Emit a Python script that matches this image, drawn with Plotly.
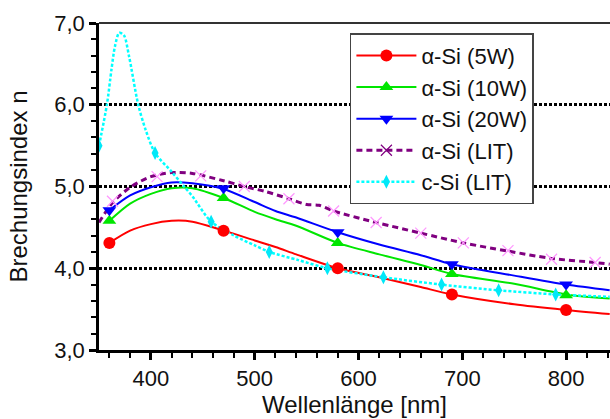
import plotly.graph_objects as go

# --- fitted curves (wavelength in nm, refractive index n) ---
wl_5w = [360, 380, 400, 420, 440, 470, 500, 520, 540, 580, 620, 660, 690, 750, 800, 842]
n_5w = [4.31, 4.46, 4.54, 4.58, 4.57, 4.46, 4.34, 4.26, 4.17, 4.00, 3.89, 3.77, 3.68, 3.56, 3.49, 3.44]

wl_10w = [360, 380, 400, 420, 440, 470, 500, 520, 540, 580, 620, 660, 690, 750, 800, 842]
n_10w = [4.58, 4.79, 4.91, 4.98, 4.98, 4.86, 4.69, 4.60, 4.52, 4.31, 4.17, 4.04, 3.93, 3.81, 3.68, 3.63]

wl_20w = [360, 380, 400, 420, 440, 470, 500, 520, 540, 580, 620, 660, 690, 750, 800, 842]
n_20w = [4.71, 4.89, 4.99, 5.05, 5.04, 4.97, 4.81, 4.70, 4.62, 4.44, 4.29, 4.16, 4.05, 3.91, 3.80, 3.73]

wl_alit = [350, 363, 380, 400, 420, 440, 470, 490, 510, 533, 550, 562, 576, 617, 660, 701, 744, 786, 828, 842]
n_alit = [4.56, 4.80, 4.99, 5.12, 5.17, 5.16, 5.07, 5.00, 4.94, 4.85, 4.78, 4.77, 4.70, 4.56, 4.43, 4.31, 4.21, 4.12, 4.07, 4.05]

wl_clit = [350, 357.6, 362, 365.3, 369.5, 374, 379, 387.8, 395, 404, 420, 432, 440, 458, 480, 500, 514, 542, 570, 624, 680, 735, 790, 842]
n_clit = [5.50, 6.00, 6.43, 6.71, 6.88, 6.85, 6.59, 6.00, 5.69, 5.41, 5.18, 5.00, 4.88, 4.57, 4.40, 4.28, 4.20, 4.10, 4.00, 3.89, 3.80, 3.73, 3.68, 3.65]

# --- measured / literature points shown with symbols ---
mk_wl_5w = [360, 470, 580, 690, 800]
mk_n_5w = [4.31, 4.46, 4.00, 3.68, 3.49]

mk_wl_10w = [360, 470, 580, 690, 800]
mk_n_10w = [4.58, 4.86, 4.31, 3.93, 3.67]

mk_wl_20w = [360, 470, 580, 690, 800]
mk_n_20w = [4.71, 4.98, 4.44, 4.05, 3.80]

mk_wl_alit = [363, 406, 448, 490, 533, 576, 617, 660, 701, 744, 786, 828]
mk_n_alit = [4.82, 5.12, 5.13, 5.00, 4.85, 4.70, 4.56, 4.43, 4.31, 4.215, 4.11, 4.07]

mk_wl_clit = [350, 404, 458, 514, 570, 624, 680, 735, 790]
mk_n_clit = [5.50, 5.41, 4.57, 4.20, 4.00, 3.89, 3.80, 3.73, 3.68]

labels = ["α-Si (5W)", "α-Si (10W)", "α-Si (20W)", "α-Si (LIT)", "c-Si (LIT)"]

X_RANGE = [350, 842.3]
Y_RANGE = [3, 7]

FONT = "Liberation Sans, Arial, sans-serif"
TXT = "#111111"

series = [
    dict(name=labels[0], cx=wl_5w, cy=n_5w, mx=mk_wl_5w, my=mk_n_5w,
         line=dict(color="#FF0000", width=2),
         marker=dict(symbol="circle", size=12, color="#FF0000")),
    dict(name=labels[1], cx=wl_10w, cy=n_10w, mx=mk_wl_10w, my=mk_n_10w,
         line=dict(color="#00E600", width=2),
         marker=dict(symbol="triangle-up", size=12, color="#00E600")),
    dict(name=labels[2], cx=wl_20w, cy=n_20w, mx=mk_wl_20w, my=mk_n_20w,
         line=dict(color="#0000FF", width=2),
         marker=dict(symbol="triangle-down", size=12, color="#0000FF")),
    dict(name=labels[3], cx=wl_alit, cy=n_alit, mx=mk_wl_alit, my=mk_n_alit,
         line=dict(color="#800080", width=3, dash="6px,4px"),
         marker=dict(symbol="x-thin-open", size=11,
                     line=dict(color="#C890C8", width=1.2))),
    dict(name=labels[4], cx=wl_clit, cy=n_clit, mx=mk_wl_clit, my=mk_n_clit,
         line=dict(color="#00FFFF", width=2.5, dash="3px,2px"),
         marker=dict(symbol="diamond-tall", size=10, color="#00E8F8")),
]

fig = go.Figure()

for s in series:
    fig.add_trace(go.Scatter(x=s["cx"], y=s["cy"], mode="lines",
                             line=dict(shape="spline", smoothing=0.8, **s["line"]),
                             showlegend=False, hoverinfo="skip"))
for s in series:
    fig.add_trace(go.Scatter(x=s["mx"], y=s["my"], mode="markers",
                             marker=s["marker"], showlegend=False))
# legend entries: line with symbol
for s in series:
    fig.add_trace(go.Scatter(x=[None], y=[None], mode="lines+markers",
                             name=s["name"], line=s["line"], marker=s["marker"]))

fig.update_layout(
    width=610, height=419,
    margin=dict(l=99, r=0, t=23, b=69),
    paper_bgcolor="white", plot_bgcolor="white",
    separators=", ",
    font=dict(family=FONT, size=22, color=TXT),
    showlegend=True,
    legend=dict(x=0.491, y=0.969, xanchor="left", yanchor="top",
                bgcolor="white", bordercolor="#444444", borderwidth=1.5,
                font=dict(family=FONT, size=22, color=TXT),
                itemwidth=60, tracegroupgap=0),
    shapes=[dict(type="line", xref="paper", yref="paper", x0=0, x1=1, y0=1, y1=1,
                 line=dict(color="#333333", width=2))],
)

fig.update_layout(
    xaxis=dict(
        range=X_RANGE, tick0=0, dtick=100,
        showline=True, linecolor="black", linewidth=2.5,
        ticks="outside", ticklen=7, tickwidth=2.5, tickcolor="black",
        minor=dict(tickmode="linear", tick0=0, dtick=20, ticks="outside",
                   ticklen=5, tickwidth=2, tickcolor="black", showgrid=False),
        showgrid=False, zeroline=False,
        tickfont=dict(family=FONT, size=22, color=TXT),
        title=dict(text="Wellenlänge [nm]", font=dict(family=FONT, size=24, color=TXT), standoff=7),
    ),
    yaxis=dict(
        range=Y_RANGE, tick0=0, dtick=1, tickformat=".1f",
        showline=True, linecolor="black", linewidth=2.5,
        ticks="outside", ticklen=7, tickwidth=2.5, tickcolor="black",
        minor=dict(tickmode="linear", tick0=0, dtick=0.2, ticks="outside",
                   ticklen=5, tickwidth=2, tickcolor="black", showgrid=False),
        showgrid=True, gridcolor="black", gridwidth=2.5, griddash="3px,2px",
        zeroline=False,
        tickfont=dict(family=FONT, size=22, color=TXT),
        title=dict(text="Brechungsindex n", font=dict(family=FONT, size=24, color=TXT), standoff=20),
    ),
)

fig.write_html("out.html")
